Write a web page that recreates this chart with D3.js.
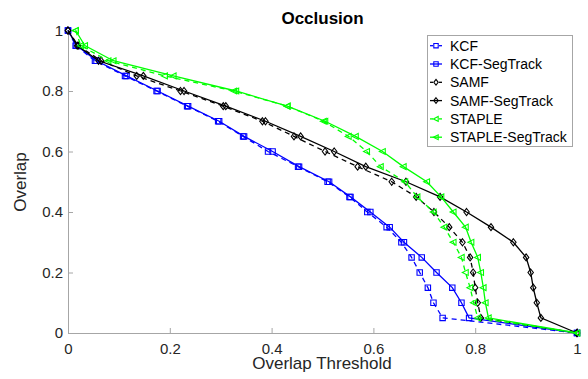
<!DOCTYPE html>
<html><head><meta charset="utf-8">
<script src="https://cdn.jsdelivr.net/npm/d3@7"></script>
<style>
html,body{margin:0;padding:0;background:#fff;}
svg{display:block;font-family:"Liberation Sans",Arial,sans-serif;}
</style></head>
<body><svg id="c" width="588" height="379"></svg>
<script>
// ---- data ----
const overlapLevels = [1,0.95,0.9,0.85,0.8,0.75,0.7,0.65,0.6,0.55,0.5,0.45,0.4,0.35,0.3,0.25,0.2,0.15,0.1,0.05,0];
const kcf        = [0,0.015,0.053,0.112,0.174,0.234,0.295,0.344,0.393,0.452,0.510,0.553,0.588,0.626,0.655,0.675,0.691,0.707,0.718,0.736,1];
const kcfSeg     = [0,0.017,0.056,0.115,0.176,0.236,0.297,0.346,0.402,0.454,0.513,0.555,0.594,0.632,0.660,0.695,0.724,0.755,0.773,0.788,1];
const samf       = [0,0.020,0.065,0.135,0.221,0.305,0.382,0.444,0.505,0.569,0.636,0.684,0.719,0.749,0.775,0.790,0.796,0.800,0.805,0.811,1];
const samfSeg    = [0,0.018,0.060,0.148,0.228,0.310,0.388,0.457,0.523,0.585,0.664,0.731,0.783,0.831,0.875,0.900,0.909,0.914,0.921,0.929,1];
const staple     = [0.015,0.025,0.079,0.190,0.326,0.431,0.502,0.551,0.587,0.614,0.662,0.686,0.718,0.739,0.757,0.773,0.781,0.790,0.797,0.805,1];
const stapleSeg  = [0.015,0.033,0.089,0.207,0.330,0.431,0.505,0.565,0.618,0.659,0.705,0.733,0.757,0.781,0.792,0.805,0.811,0.816,0.820,0.826,1];
const seriesNames = ["KCF","KCF-SegTrack","SAMF","SAMF-SegTrack","STAPLE","STAPLE-SegTrack"];
const seriesValues = [kcf,kcfSeg,samf,samfSeg,staple,stapleSeg];
const xTickValues = [0,0.2,0.4,0.6,0.8,1];
const xTickLabels = ["0","0.2","0.4","0.6","0.8","1"];
const yTickValues = [0,0.2,0.4,0.6,0.8,1];
const yTickLabels = ["0","0.2","0.4","0.6","0.8","1"];
const titleText = "Occlusion", xLabelText = "Overlap Threshold", yLabelText = "Overlap";

// ---- styles ----
const styles = [
  {color:"#0000ff", dash:true,  marker:"square"},
  {color:"#0000ff", dash:false, marker:"square"},
  {color:"#000000", dash:true,  marker:"diamond"},
  {color:"#000000", dash:false, marker:"diamond"},
  {color:"#00ff00", dash:true,  marker:"tri"},
  {color:"#00ff00", dash:false, marker:"tri"}
];

const svg = d3.select("#c");
const x = d3.scaleLinear().domain([0,1]).range([68,577]);
const y = d3.scaleLinear().domain([0,1]).range([333,30.5]);
const axisCol = "#a6a6a6", textCol = "#262626";

// axes
const gx = svg.append("g").attr("transform","translate(0,333)")
  .call(d3.axisBottom(x).tickValues(xTickValues).tickFormat((d,i)=>xTickLabels[i]).tickSizeInner(-5).tickSizeOuter(0).tickPadding(10));
const gy = svg.append("g").attr("transform","translate(68,0)")
  .call(d3.axisLeft(y).tickValues(yTickValues).tickFormat((d,i)=>yTickLabels[i]).tickSizeInner(-5).tickSizeOuter(0).tickPadding(5));
[gx,gy].forEach(g=>{
  g.select(".domain").attr("stroke",axisCol).attr("stroke-width",1);
  g.selectAll(".tick line").attr("stroke",axisCol);
  g.selectAll(".tick text").attr("fill",textCol).style("font-size","15px").style("font-family","Liberation Sans, Arial, sans-serif");
});

function markerPath(type, s){
  if(type==="square") return `M${-s},${-s}H${s}V${s}H${-s}Z`;
  if(type==="diamond") return `M0,${-s*1.3}L${s},0L0,${s*1.3}L${-s},0Z`;
  return `M${-s*1.2},0L${s},${-s*1.1}L${s},${s*1.1}Z`;
}

const line = d3.line().x(d=>x(d[0])).y(d=>y(d[1]));
seriesValues.forEach((vals,si)=>{
  const st = styles[si];
  const pts = vals.map((v,i)=>[v, overlapLevels[i]]);
  const g = svg.append("g");
  g.append("path").attr("d",line(pts)).attr("fill","none").attr("stroke",st.color)
    .attr("stroke-width",1.3).attr("stroke-dasharray",st.dash?"5,4":null);
  g.selectAll("path.m").data(pts).enter().append("path").attr("class","m")
    .attr("transform",d=>`translate(${x(d[0])},${y(d[1])})`)
    .attr("d",markerPath(st.marker,2.7)).attr("fill","none").attr("stroke",st.color).attr("stroke-width",1.1);
});

// title & labels
svg.append("text").attr("x",322.5).attr("y",23.5).attr("text-anchor","middle")
  .style("font-size","17px").style("font-weight","bold").attr("fill","#000").text(titleText);
svg.append("text").attr("x",322).attr("y",369).attr("text-anchor","middle")
  .style("font-size","17px").attr("fill",textCol).text(xLabelText);
svg.append("text").attr("transform","translate(26,182) rotate(-90)").attr("text-anchor","middle")
  .style("font-size","17px").attr("fill",textCol).text(yLabelText);

// legend
const lg = svg.append("g");
lg.append("rect").attr("x",427.5).attr("y",35.5).attr("width",145).attr("height",111)
  .attr("fill","#fff").attr("stroke","#a6a6a6").attr("stroke-width",1);
seriesNames.forEach((name,i)=>{
  const st = styles[i];
  const cy = 45.7 + i*18.3;
  if(st.dash){
    lg.append("line").attr("x1",430).attr("x2",433).attr("y1",cy).attr("y2",cy).attr("stroke",st.color).attr("stroke-width",1.3);
    lg.append("line").attr("x1",439).attr("x2",442).attr("y1",cy).attr("y2",cy).attr("stroke",st.color).attr("stroke-width",1.3);
  } else {
    lg.append("line").attr("x1",430).attr("x2",442).attr("y1",cy).attr("y2",cy).attr("stroke",st.color).attr("stroke-width",1.3);
  }
  lg.append("path").attr("transform",`translate(436,${cy})`).attr("d",markerPath(st.marker,2.2))
    .attr("fill","none").attr("stroke",st.color).attr("stroke-width",1.1);
  lg.append("text").attr("x",450).attr("y",cy).attr("dy","0.36em").style("font-size","14px").attr("fill","#000").text(name);
});
</script></body></html>
